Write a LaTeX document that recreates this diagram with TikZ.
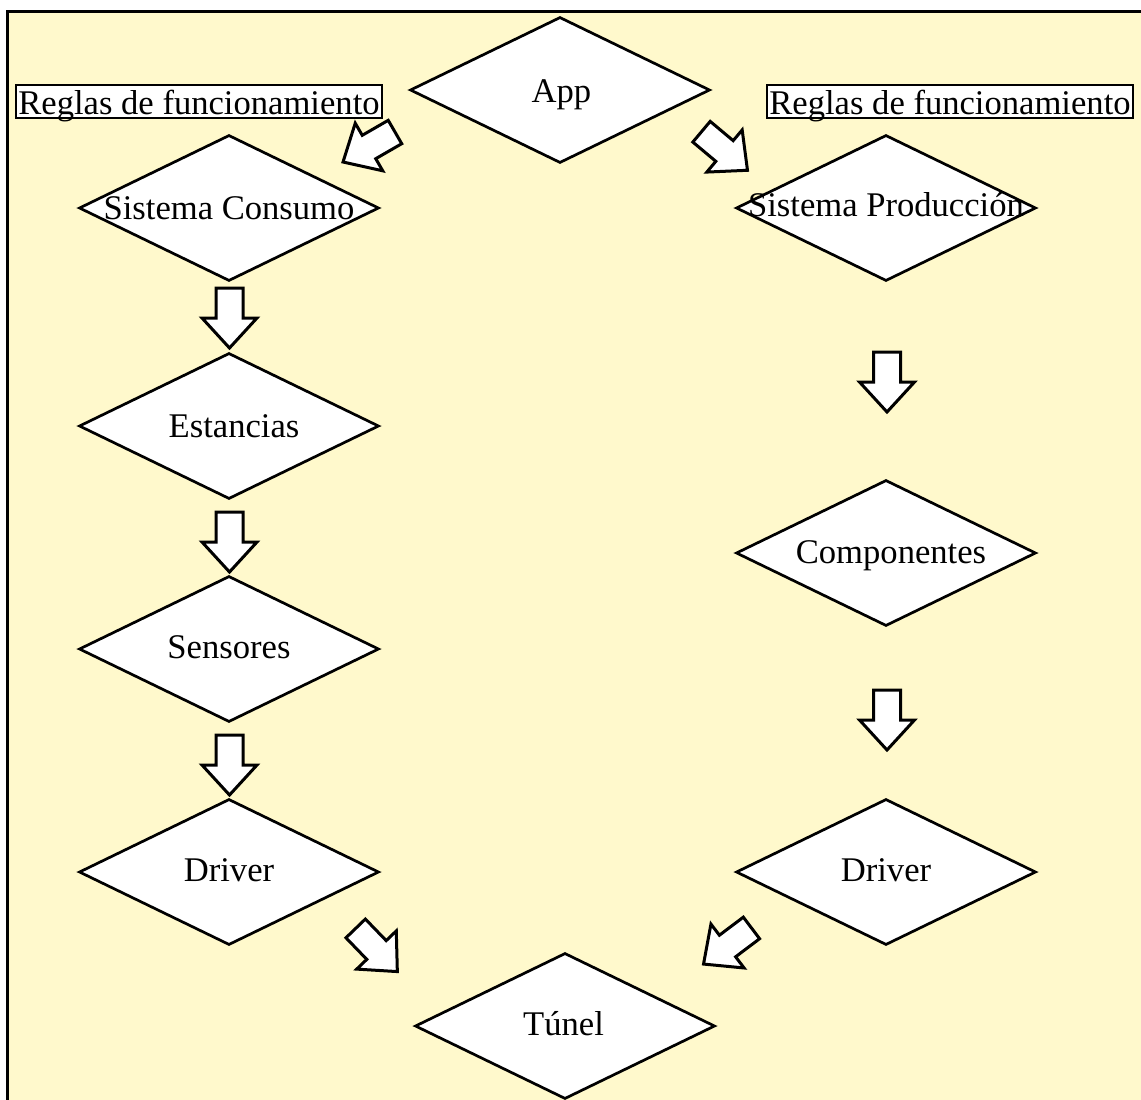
\documentclass[tikz,border=0pt]{standalone}
\usepackage{fontspec}
\setmainfont{Liberation Serif}
\usetikzlibrary{shapes.geometric}
\definecolor{paper}{RGB}{255,249,204}
\begin{document}
\begin{tikzpicture}[x=1pt,y=-1pt,
  font=\fontsize{34.6}{40}\selectfont,
  dia/.style={diamond, draw, fill=white, line width=2.7pt,
    minimum width=300pt, minimum height=146pt, inner sep=0pt},
  rulebox/.style={draw, fill=white, line width=2.2pt, inner xsep=2.5pt,
    inner ysep=0pt, text height=30pt, text depth=3.5pt},
  bigarrow/.pic={\draw[line width=3pt, fill=white, line join=miter]
    (30,0) -- (0,27.5) -- (0,13.5) -- (-30,13.5) -- (-30,-13.5)
    -- (0,-13.5) -- (0,-27.5) -- cycle;}
]
\useasboundingbox (0,0) rectangle (1141,1100);
\fill[white] (0,0) rectangle (1141,1100);
\draw[line width=3pt, fill=paper] (7.5,11.5) rectangle (1170,1130);

% decision diamonds
\node[dia, label={[xshift=1.5pt,yshift=-5pt]center:App}] (app) at (560,90) {};
\node[dia, label={center:Sistema Consumo}] (sc) at (229,208) {};
\node[dia, label={[xshift=5pt]center:Estancias}] (est) at (229,426) {};
\node[dia, label={[yshift=2pt]center:Sensores}] (sen) at (229,649) {};
\node[dia, label={[yshift=2pt]center:Driver}] (drl) at (229,872) {};
\node[dia, label={[yshift=3pt]center:Sistema Producción}] (sp) at (886,208) {};
\node[dia, label={[xshift=5pt,yshift=-3pt]center:Componentes}] (comp) at (886,553) {};
\node[dia, label={[yshift=2pt]center:Driver}] (drr) at (886,872) {};
\node[dia, label={[xshift=-1.5pt,yshift=2pt]center:Túnel}] (tun) at (565,1026) {};

% rule labels
\node[rulebox] (rl) at (199,101.5) {Reglas de funcionamiento};
\node[rulebox] (rr) at (950,101.5) {Reglas de funcionamiento};

% block arrows
\pic[rotate=210] at (369,147) {bigarrow};
\pic[rotate=-40] at (724.5,151) {bigarrow};
\pic[rotate=-90] at (229.5,318) {bigarrow};
\pic[rotate=-90] at (229.5,542) {bigarrow};
\pic[rotate=-90] at (229.5,765) {bigarrow};
\pic[rotate=-90] at (887,382) {bigarrow};
\pic[rotate=-90] at (887,720) {bigarrow};
\pic[rotate=-46] at (376.5,950) {bigarrow};
\pic[rotate=217] at (727.5,946) {bigarrow};
\end{tikzpicture}
\end{document}
